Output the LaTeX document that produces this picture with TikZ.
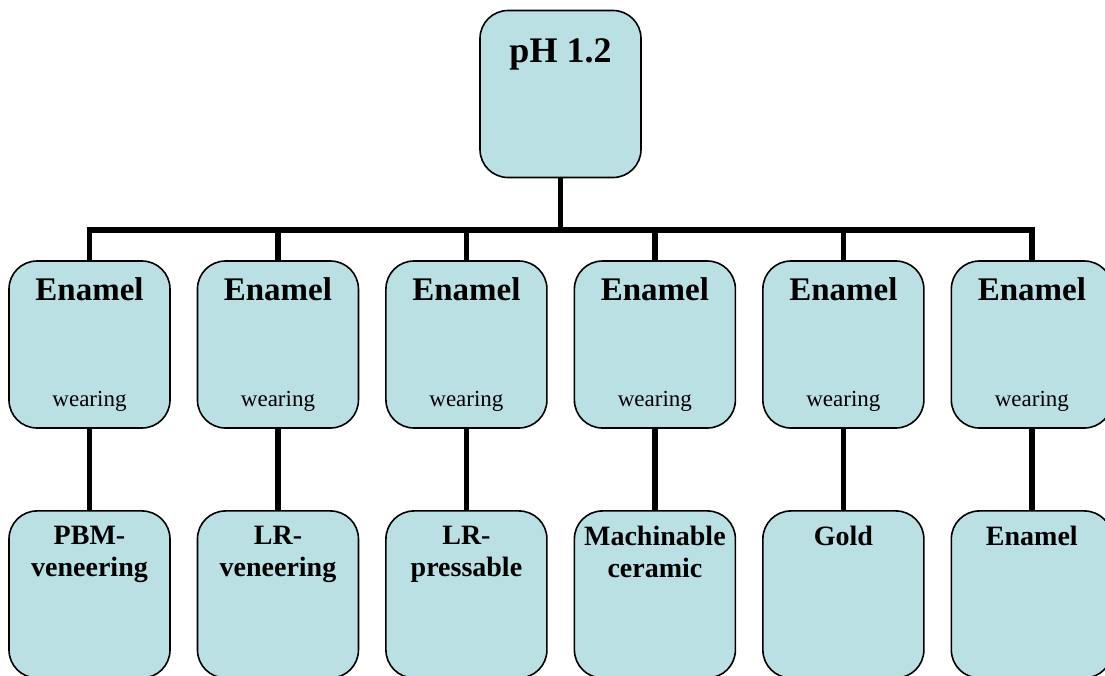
\documentclass[tikz,border=0pt]{standalone}
\usepackage{fontspec}
\setmainfont{Liberation Serif}
\usetikzlibrary{positioning}
\definecolor{boxblue}{RGB}{187,224,227}

\begin{document}
\begin{tikzpicture}[x=0.75pt,y=-0.75pt]
    \tikzstyle{box} = [rectangle, rounded corners=21pt, minimum width=120.75pt, minimum height=125.25pt, draw=black, line width=1.2pt, fill=boxblue, inner sep=0pt]
\tikzstyle{title} = [font=\fontsize{27}{32}\selectfont\bfseries, inner sep=0pt, anchor=base]
\tikzstyle{head} = [font=\fontsize{24.75}{29}\selectfont\bfseries, inner sep=0pt, anchor=base]
\tikzstyle{small} = [font=\fontsize{17.25}{20}\selectfont, inner sep=0pt, anchor=base]
\tikzstyle{leaf} = [font=\fontsize{21}{24}\selectfont\bfseries, inner sep=0pt, anchor=north, align=center]
\tikzstyle{link} = [line width=4.3pt]
    \useasboundingbox (0,0) rectangle (1105,675);
\clip (0,0) rectangle (1105,675);

\node (ph) [box] at (560.5,94) {};
\node (en1) [box] at (89.5,344.5) {};
\node (en2) [box, right=19.4pt of en1] {};
\node (en3) [box, right=19.4pt of en2] {};
\node (en4) [box, right=19.4pt of en3] {};
\node (en5) [box, right=19.4pt of en4] {};
\node (en6) [box, right=19.4pt of en5] {};
\node (m1) [box, below=61pt of en1] {};
\node (m2) [box, below=61pt of en2] {};
\node (m3) [box, below=61pt of en3] {};
\node (m4) [box, below=61pt of en4] {};
\node (m5) [box, below=61pt of en5] {};
\node (m6) [box, below=61pt of en6] {};

\node (ph-t) [title] at ([yshift=-39.75pt]ph.north) {pH 1.2};
\node (en1-t) [head] at ([yshift=-30pt]en1.north) {Enamel};
\node (en2-t) [head] at ([yshift=-30pt]en2.north) {Enamel};
\node (en3-t) [head] at ([yshift=-30pt]en3.north) {Enamel};
\node (en4-t) [head] at ([yshift=-30pt]en4.north) {Enamel};
\node (en5-t) [head] at ([yshift=-30pt]en5.north) {Enamel};
\node (en6-t) [head] at ([yshift=-30pt]en6.north) {Enamel};
\node (en1-w) [small] at ([yshift=-109.5pt]en1.north) {wearing};
\node (en2-w) [small] at ([yshift=-109.5pt]en2.north) {wearing};
\node (en3-w) [small] at ([yshift=-109.5pt]en3.north) {wearing};
\node (en4-w) [small] at ([yshift=-109.5pt]en4.north) {wearing};
\node (en5-w) [small] at ([yshift=-109.5pt]en5.north) {wearing};
\node (en6-w) [small] at ([yshift=-109.5pt]en6.north) {wearing};
\node (m1-t) [leaf] at ([yshift=-11.5pt]m1.north) {PBM-\\veneering};
\node (m2-t) [leaf] at ([yshift=-11.5pt]m2.north) {LR-\\veneering};
\node (m3-t) [leaf] at ([yshift=-11.5pt]m3.north) {LR-\\pressable};
\node (m4-t) [leaf] at ([yshift=-11.5pt]m4.north) {Machinable\\ceramic};
\node (m5-t) [leaf] at ([yshift=-11.5pt]m5.north) {Gold};
\node (m6-t) [leaf] at ([yshift=-11.5pt]m6.north) {Enamel};

\coordinate (bus) at (560.5,230);
\draw[link] (ph.south) -- (ph.south |- bus) -| (en1.north);
\draw[link] (ph.south) -- (ph.south |- bus) -| (en6.north);
\draw[link] (en2.north) -- (en2.north |- bus);
\draw[link] (en3.north) -- (en3.north |- bus);
\draw[link] (en4.north) -- (en4.north |- bus);
\draw[link] (en5.north) -- (en5.north |- bus);

  \draw[link] (en1) -- (m1);
\draw[link] (en2) -- (m2);
\draw[link] (en3) -- (m3);
\draw[link] (en4) -- (m4);
\draw[link] (en5) -- (m5);
\draw[link] (en6) -- (m6);
  \end{tikzpicture}
\end{document}
